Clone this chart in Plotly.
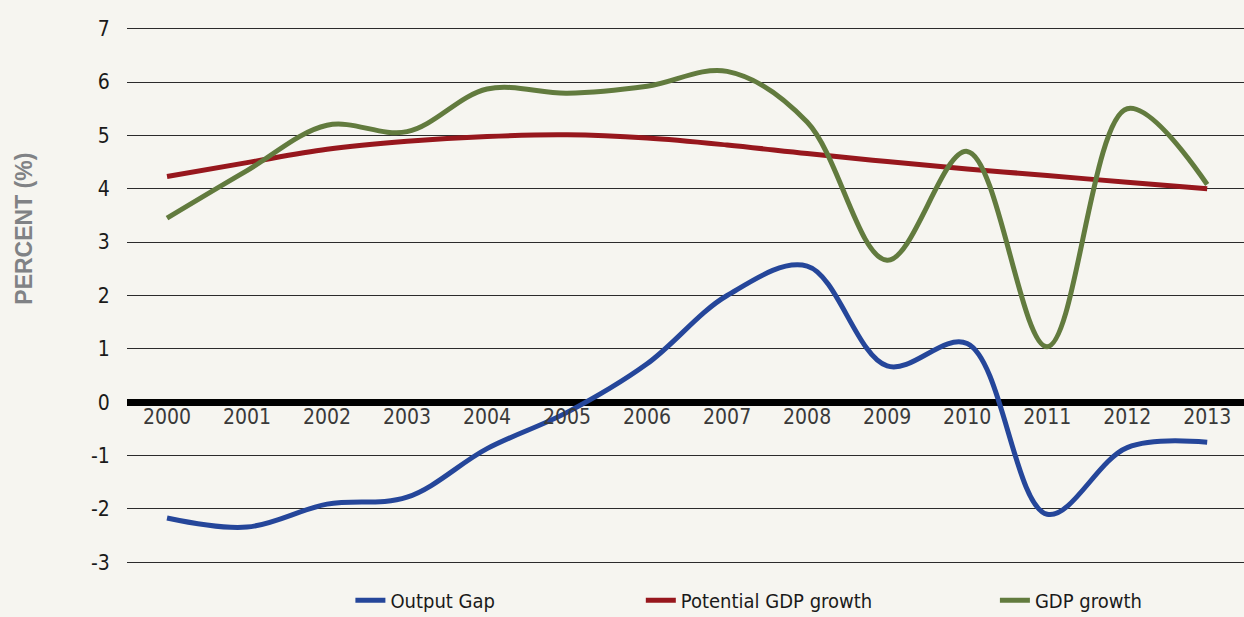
import plotly.graph_objects as go

years = list(range(2000, 2014))
output_gap = [-2.17, -2.34, -1.91, -1.78, -0.87, -0.19, 0.72, 2.0, 2.55, 0.68, 1.1, -2.1, -0.85, -0.75]
potential_growth = [4.23, 4.49, 4.74, 4.89, 4.98, 5.01, 4.95, 4.82, 4.66, 4.51, 4.37, 4.25, 4.12, 4.0]
gdp_growth = [3.45, 4.34, 5.19, 5.07, 5.87, 5.79, 5.92, 6.2, 5.25, 2.66, 4.7, 1.04, 5.5, 4.08]
y_ticks = list(range(-3, 8))

series = [
    ("Output Gap", output_gap, "#25469a", "legend"),
    ("Potential GDP growth", potential_growth, "#97171d", "legend2"),
    ("GDP growth", gdp_growth, "#627b3e", "legend3"),
]

BG = "#f6f5f0"
narrow = "DejaVu Sans Condensed, Liberation Sans Narrow, Arial Narrow, sans-serif"

fig = go.Figure()
for name, vals, col, lg in series:
    fig.add_trace(go.Scatter(
        x=years, y=vals, name=name, mode="lines",
        line=dict(color=col, width=5, shape="spline", smoothing=1.0),
        legend=lg,
    ))

ymin, ymax = -3.05, 7.05
zero_pos = (0 - ymin) / (ymax - ymin)

legend_common = dict(orientation="h", yref="container", yanchor="middle", y=0.027,
                     xanchor="left", bgcolor="rgba(0,0,0,0)",
                     font=dict(family=narrow, size=20, color="#1a1a1a"), itemwidth=30)

fig.update_layout(
    width=1244, height=617,
    paper_bgcolor=BG, plot_bgcolor=BG,
    margin=dict(l=127, r=0, t=26, b=52, autoexpand=False),
    showlegend=True,
    legend=dict(legend_common, x=0.2),
    legend2=dict(legend_common, x=0.46),
    legend3=dict(legend_common, x=0.777),
    xaxis=dict(
        range=[1999.5, 2013.46],
        tickmode="array", tickvals=years, ticktext=[str(y) for y in years],
        anchor="free", position=zero_pos,
        showgrid=False, zeroline=False, showline=False,
        ticks="", tickfont=dict(family=narrow, size=21, color="#3a3a3a"),
    ),
    yaxis=dict(
        range=[ymin, ymax],
        tickmode="array", tickvals=y_ticks, ticktext=[str(v) for v in y_ticks],
        showgrid=True, gridcolor="#2b2b2b", gridwidth=1,
        zeroline=True, zerolinecolor="#000000", zerolinewidth=7,
        showline=False, ticks="outside", ticklen=12, tickcolor=BG,
        tickfont=dict(family=narrow, size=21, color="#1a1a1a"),
    ),
    annotations=[dict(
        text="<b>PERCENT (%)</b>", textangle=-90,
        xref="paper", yref="paper", x=-0.0922, y=0.624,
        xanchor="center", yanchor="middle", showarrow=False,
        font=dict(family="Liberation Sans, Arial, sans-serif", size=23, color="#808285"),
    )],
)

fig.write_html("out.html", config={"displayModeBar": False},
               post_script="document.body.style.margin='0';document.body.style.overflow='hidden';")
